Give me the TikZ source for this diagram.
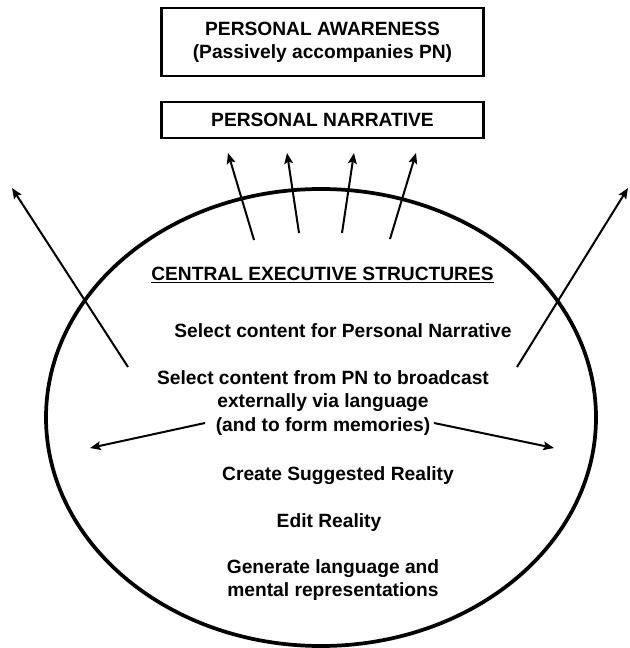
\documentclass[tikz,border=0pt]{standalone}
\usepackage{fontspec}
\setmainfont{Liberation Sans}
\usetikzlibrary{
    arrows.meta,
    positioning
}

\tikzset{
    levelbox/.style={draw, line width=2.2pt, minimum width=242pt, inner sep=0pt, align=center},
    stage/.style={align=center},
    outarrow/.style={line width=1.5pt, -{Stealth[length=8pt,width=6.5pt,inset=1.5pt]}}
}

\begin{document}
\begin{tikzpicture}[x=0.75pt, y=-0.75pt, font=\fontsize{14.4pt}{17pt}\selectfont\bfseries]
    \useasboundingbox (0,0) rectangle (630,648);

    % Boxes above the executive
    \node[levelbox, minimum height=51pt] (awareness) at (322.5,42) {PERSONAL AWARENESS\\(Passively accompanies PN)};
    \node[levelbox, minimum height=27pt] (narrative) at (322.5,120) {PERSONAL NARRATIVE};

    % Central executive
    \draw[line width=2.8pt] (321,417.5) ellipse [x radius=275, y radius=228.5];

    \node[anchor=base] (ces) at (322.5,280) {\underline{CENTRAL EXECUTIVE STRUCTURES}};
    \node[anchor=base] (select) at (343,337) {Select content for Personal Narrative};
    \node[stage, font=\fontsize{14.4pt}{17.6pt}\selectfont\bfseries] (broadcast) at (323,403) {Select content from PN to broadcast\\externally via language\\(and to form memories)};
    \node[anchor=base] (suggest) at (338,480) {Create Suggested Reality};
    \node[anchor=base] (edit) at (329,527) {Edit Reality};
    \node[stage] (generate) at (333,580) {Generate language and\\mental representations};

    % Arrows up into the narrative
    \foreach \i/\tx/\ty/\hx/\hy in {1/254/240/228/153, 2/299/233/287/153, 3/342/233/354/153, 4/390/239/416/153}{
        \coordinate (pn tail \i) at (\tx,\ty);
        \coordinate (pn head \i) at (\hx,\hy);
        \draw[outarrow] (pn tail \i) -- (pn head \i);
    }

    % Arrows going out of the ellipse
    \coordinate (out left tail) at (128,367);
    \coordinate (out left head) at (12,188);
    \coordinate (out right tail) at (517,367);
    \coordinate (out right head) at (628,188);
    \draw[outarrow] (out left tail) -- (out left head);
    \draw[outarrow] (out right tail) -- (out right head);

    % Arrows from the memories line
    \coordinate (mem left tail) at (205,423);
    \coordinate (mem left head) at (90,448);
    \coordinate (mem right tail) at (434,423);
    \coordinate (mem right head) at (554,448);
    \draw[outarrow] (mem left tail) -- (mem left head);
    \draw[outarrow] (mem right tail) -- (mem right head);
\end{tikzpicture}
\end{document}
